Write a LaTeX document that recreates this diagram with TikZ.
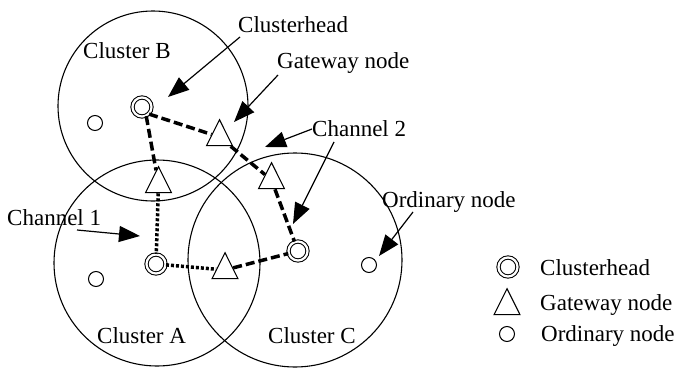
\documentclass[tikz,border=0pt]{standalone}
\usepackage{fontspec}
\setmainfont{Liberation Serif}
\usetikzlibrary{shapes.geometric,arrows.meta}
\begin{document}
\begin{tikzpicture}[x=1pt,y=-1pt,
  every node/.style={font=\fontsize{23}{27}\selectfont},
  clu/.style={draw, line width=1.1pt},
  chead/.style={circle, draw, line width=1.05pt, double, double distance=2.2pt, minimum size=19pt, inner sep=0pt},
  onode/.style={circle, draw, line width=1.05pt, minimum size=15pt, inner sep=0pt},
  gnode/.style={regular polygon, regular polygon sides=3, draw, line width=1.05pt, minimum size=30pt, inner sep=0pt, yscale=1.155, transform shape},
  lbl/.style={anchor=base west, inner sep=0pt},
  ptr/.style={line width=1.2pt, -{Triangle[length=21pt,width=16pt]}},
  dashlink/.style={line width=3.5pt, dash pattern=on 9pt off 4pt},
  dotlink/.style={line width=3.5pt, dash pattern=on 3pt off 2pt},
]
\useasboundingbox (0,0) rectangle (675,372);

% cluster circles
\draw[clu] (153,106) circle[radius=95];
\draw[clu] (157,263) circle[radius=103];
\draw[clu] (295,260) circle[radius=107];

% nodes
\node[chead] (hB) at (142,107) {};
\node[chead] (hA) at (156,264) {};
\node[chead] (hC) at (298,251) {};
\node[onode] (oB) at (95,123) {};
\node[onode] (oA) at (96,279) {};
\node[onode] (oC) at (369,265) {};
\node[gnode] (gBC) at (219.5,137) {};
\node[gnode] (gBA) at (158.5,184) {};
\node[gnode] (gC2) at (271.5,180) {};
\node[gnode] (gAC) at (225,270) {};

% links
\draw[dashlink] (hB.-45) -- (gBC);
\draw[dashlink] (hB.-65) -- (gBA);
\draw[dotlink] (gBA) -- (hA);
\draw[dotlink] (hA) -- (gAC);
\draw[dashlink] (gAC) -- (hC);
\draw[dashlink] (gBC) -- (gC2);
\draw[dashlink] (gC2) -- (hC);

% labels
\node[lbl] (tB) at (83,58) {Cluster B};
\node[lbl] (tA) at (97,343) {Cluster A};
\node[lbl] (tC) at (268,343) {Cluster C};
\node[lbl] (tCH) at (238,32) {Clusterhead};
\node[lbl] (tGW) at (277,68) {Gateway node};
\node[lbl] (tCh2) at (312,136) {Channel 2};
\node[lbl] (tCh1) at (7,225) {Channel 1};
\node[lbl] (tOrd) at (382,207) {Ordinary node};

% pointer arrows
\coordinate (p1s) at (240,37);  \coordinate (p1e) at (168,97);
\coordinate (p2s) at (278,75);  \coordinate (p2e) at (234,122);
\coordinate (p3s) at (312,129); \coordinate (p3e) at (265,147);
\coordinate (p4s) at (334,142); \coordinate (p4e) at (293,224);
\coordinate (p5s) at (77,230);  \coordinate (p5e) at (140,236);
\coordinate (p6s) at (413,212); \coordinate (p6e) at (379,256);
\draw[ptr] (p1s) -- (p1e);
\draw[ptr] (p2s) -- (p2e);
\draw[ptr] (p3s) -- (p3e);
\draw[ptr] (p4s) -- (p4e);
\draw[ptr] (p5s) -- (p5e);
\draw[ptr] (p6s) -- (p6e);

% legend
\node[chead] (lgH) at (508,267) {};
\node[gnode] (lgG) at (507,306) {};
\node[onode] (lgO) at (507,334) {};
\node[lbl] (lgHt) at (540,275) {Clusterhead};
\node[lbl] (lgGt) at (540,310) {Gateway node};
\node[lbl] (lgOt) at (541,341) {Ordinary node};
\end{tikzpicture}
\end{document}
